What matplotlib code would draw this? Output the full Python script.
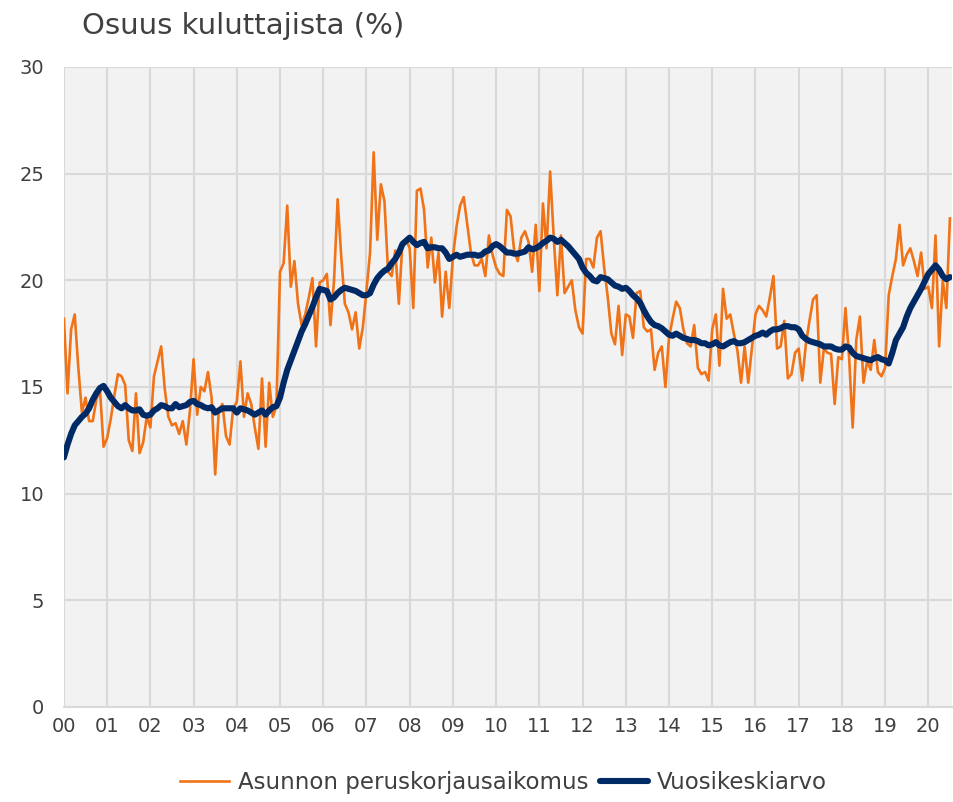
import numpy as np
import matplotlib.pyplot as plt

plt.rcParams['font.family'] = ['DejaVu Sans']

# kuukausittaiset arvot 2000/01 - 2020/07
remontti = [
    18.2, 14.7, 17.7, 18.4, 15.9, 13.8, 14.5, 13.4, 13.4, 14.4, 14.9, 12.2,   # 2000
    12.6, 13.5, 14.6, 15.6, 15.5, 15.1, 12.5, 12.0, 14.7, 11.9, 12.4, 13.6,   # 2001
    13.1, 15.5, 16.2, 16.9, 14.9, 13.6, 13.2, 13.3, 12.8, 13.4, 12.3, 13.9,   # 2002
    16.3, 13.7, 15.0, 14.8, 15.7, 14.5, 10.9, 13.9, 14.2, 12.7, 12.3, 14.0,   # 2003
    14.3, 16.2, 13.6, 14.7, 14.2, 13.1, 12.1, 15.4, 12.2, 15.2, 13.6, 14.1,   # 2004
    20.4, 20.8, 23.5, 19.7, 20.9, 18.9, 17.9, 18.4, 19.2, 20.1, 16.9, 19.9,   # 2005
    20.0, 20.3, 17.9, 20.0, 23.8, 21.1, 18.9, 18.5, 17.7, 18.5, 16.8, 17.8,   # 2006
    19.5, 21.3, 26.0, 21.9, 24.5, 23.7, 20.4, 20.2, 21.4, 18.9, 21.8, 21.9,   # 2007
    21.5, 18.7, 24.2, 24.3, 23.3, 20.6, 22.0, 19.9, 21.3, 18.3, 20.4, 18.7,   # 2008
    21.1, 22.5, 23.5, 23.9, 22.6, 21.3, 20.7, 20.7, 21.0, 20.2, 22.1, 21.2,   # 2009
    20.6, 20.3, 20.2, 23.3, 23.0, 21.4, 20.9, 22.0, 22.3, 21.8, 20.4, 22.6,   # 2010
    19.5, 23.6, 21.5, 25.1, 22.0, 19.3, 22.1, 19.4, 19.7, 20.0, 18.6, 17.8,   # 2011
    17.5, 21.0, 21.0, 20.6, 22.0, 22.3, 20.6, 19.2, 17.5, 17.0, 18.8, 16.5,   # 2012
    18.4, 18.3, 17.3, 19.4, 19.5, 17.8, 17.6, 17.7, 15.8, 16.6, 16.9, 15.0,   # 2013
    17.3, 18.2, 19.0, 18.7, 17.7, 17.05, 16.9, 17.9, 15.9, 15.6, 15.7, 15.3,  # 2014
    17.7, 18.4, 16.0, 19.6, 18.2, 18.4, 17.5, 16.7, 15.2, 16.9, 15.2, 16.8,   # 2015
    18.4, 18.8, 18.6, 18.3, 19.2, 20.2, 16.8, 16.9, 18.1, 15.4, 15.6, 16.6,   # 2016
    16.8, 15.3, 17.0, 18.1, 19.1, 19.3, 15.2, 16.8, 16.6, 16.55, 14.2, 16.4,  # 2017
    16.3, 18.7, 16.4, 13.1, 17.2, 18.3, 15.2, 16.2, 15.8, 17.2, 15.7, 15.5,   # 2018
    15.9, 19.3, 20.2, 21.0, 22.6, 20.7, 21.2, 21.5, 20.9, 20.2, 21.3, 19.6,   # 2019
    19.7, 18.7, 22.1, 16.9, 20.0, 18.7, 22.9,                                 # 2020
]

vuosikeskiarvo = [
    11.7, 12.3, 12.8, 13.2, 13.4, 13.6, 13.75, 14.0, 14.4, 14.7, 14.95, 15.05,
    14.8, 14.5, 14.3, 14.1, 14.0, 14.15, 14.0, 13.9, 13.9, 13.95, 13.7, 13.65,
    13.7, 13.9, 14.0, 14.15, 14.1, 14.0, 14.0, 14.2, 14.05, 14.1, 14.15, 14.3,
    14.35, 14.2, 14.15, 14.05, 14.0, 14.05, 13.8, 13.9, 14.0, 14.0, 14.0, 14.0,
    13.8, 14.0, 13.95, 13.9, 13.8, 13.7, 13.8, 13.9, 13.7, 13.9, 14.05, 14.1,
    14.5, 15.2, 15.8, 16.25, 16.7, 17.15, 17.6, 17.95, 18.35, 18.75, 19.2, 19.6,
    19.55, 19.5, 19.1, 19.2, 19.4, 19.55, 19.65, 19.6, 19.55, 19.5, 19.4, 19.3,
    19.3, 19.4, 19.8, 20.1, 20.3, 20.45, 20.55, 20.8, 21.0, 21.3, 21.7, 21.85,
    22.0, 21.8, 21.65, 21.75, 21.8, 21.5, 21.55, 21.55, 21.5, 21.5, 21.3, 21.0,
    21.1, 21.2, 21.1, 21.15, 21.2, 21.2, 21.2, 21.15, 21.2, 21.35, 21.4, 21.6,
    21.7, 21.6, 21.45, 21.3, 21.3, 21.25, 21.25, 21.3, 21.35, 21.55, 21.45, 21.5,
    21.6, 21.75, 21.85, 22.0, 21.95, 21.8, 21.9, 21.75, 21.6, 21.4, 21.2, 21.0,
    20.6, 20.35, 20.2, 20.0, 19.95, 20.15, 20.1, 20.05, 19.9, 19.75, 19.7, 19.6,
    19.65, 19.5, 19.3, 19.15, 18.95, 18.6, 18.3, 18.05, 17.9, 17.85, 17.75, 17.6,
    17.45, 17.4, 17.5, 17.4, 17.3, 17.25, 17.2, 17.2, 17.15, 17.05, 17.05, 16.95,
    17.0, 17.1, 16.95, 16.9, 17.0, 17.1, 17.15, 17.05, 17.05, 17.1, 17.2, 17.3,
    17.4, 17.45, 17.55, 17.45, 17.6, 17.7, 17.7, 17.75, 17.85, 17.85, 17.8, 17.8,
    17.7, 17.4, 17.25, 17.15, 17.1, 17.05, 17.0, 16.9, 16.9, 16.9, 16.8, 16.75,
    16.75, 16.9, 16.85, 16.6, 16.45, 16.4, 16.35, 16.3, 16.25, 16.35, 16.4, 16.3,
    16.25, 16.1, 16.6, 17.2, 17.5, 17.8, 18.3, 18.7, 19.0, 19.3, 19.6, 19.95,
    20.3, 20.5, 20.7, 20.5, 20.2, 20.05, 20.15,
]

vuodet = ['00', '01', '02', '03', '04', '05', '06', '07', '08', '09', '10',
          '11', '12', '13', '14', '15', '16', '17', '18', '19', '20']

kk = np.arange(len(remontti))

fig = plt.figure(figsize=(9.54, 8.02), dpi=100)
ax = fig.add_axes([0.067, 0.1185, 0.931, 0.798])
ax.set_facecolor('#F2F2F2')

ax.plot(kk, remontti, color='#F07318', linewidth=1.9, label='Asunnon peruskorjausaikomus', zorder=3)
ax.plot(kk, vuosikeskiarvo, color='#002A66', linewidth=4.4, label='Vuosikeskiarvo',
        solid_capstyle='round', zorder=4)

ax.set_xlim(0, 246.6)
ax.set_ylim(0, 30)
ax.set_yticks(np.arange(0, 31, 5))
ax.set_xticks(np.arange(len(vuodet)) * 12)
ax.set_xticklabels(vuodet)

ax.grid(True, color='#D9D9D9', linewidth=1.5)
ax.set_axisbelow(True)
for s in ['top', 'right', 'left']:
    ax.spines[s].set_visible(False)
ax.spines['bottom'].set_color('#D9D9D9')
ax.spines['bottom'].set_linewidth(1.5)
ax.tick_params(length=0, labelsize=14, labelcolor='#404040')
ax.tick_params(axis='x', pad=7)
ax.tick_params(axis='y', pad=14)

fig.text(0.086, 0.968, 'Osuus kuluttajista (%)', fontsize=21, color='#404040',
         ha='left', va='center')

fig.legend(loc='center', bbox_to_anchor=(0.528, 0.024), ncol=2, frameon=False,
           fontsize=16.5, handlelength=2.1, handletextpad=0.4, columnspacing=0.5,
           labelcolor='#404040')

plt.savefig('out.png', dpi=100)
